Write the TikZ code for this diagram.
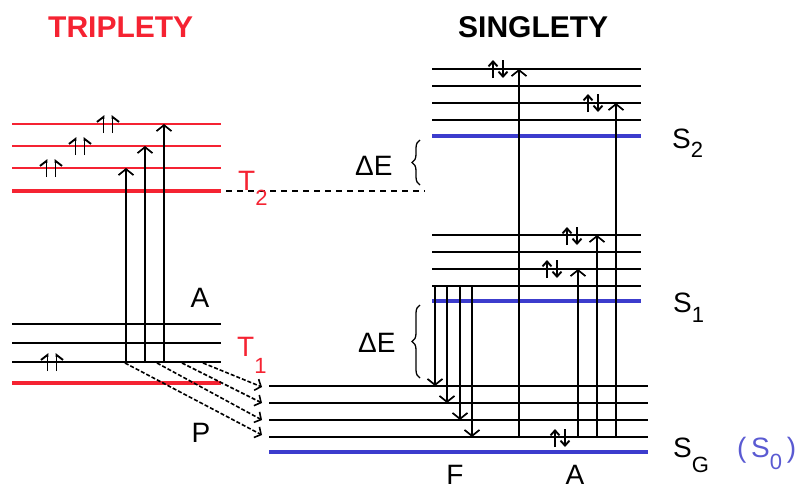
\documentclass[tikz,border=0pt]{standalone}
\usepackage{fontspec}
\setmainfont{Liberation Sans}
\usetikzlibrary{arrows.meta,decorations.pathreplacing}
\definecolor{tred}{RGB}{245,35,50}
\definecolor{sblue}{RGB}{60,60,205}
\definecolor{lblue}{RGB}{90,90,210}
\newcommand\sublab[3]{#1\raisebox{-#2pt}{\fontsize{22}{22}\selectfont #3}}
\begin{document}
\begin{tikzpicture}[x=1pt,y=-1pt,
  lvl/.style={line width=2pt},
  thick lvl/.style={line width=4pt},
  tr/.style={line width=1.7pt,-{Straight Barb[length=6pt,width=15pt]}},
  ph/.style={line width=1.6pt,dash pattern=on 4pt off 2pt,-{Straight Barb[length=5pt,width=12pt]}},
  spinline/.style={line width=1.9pt},
  lab/.style={font=\fontsize{28}{30}\selectfont,inner sep=0pt,text depth=0pt},
  ttl/.style={font=\fontsize{30}{32}\selectfont\bfseries,inner sep=0pt},
  br/.style={decorate,decoration={brace,amplitude=8pt},line width=1.3pt},
  tspin/.pic={
    \draw[spinline,-{Straight Barb[left,length=5pt,width=13pt]}] (-4.5,9) -- (-4.5,-9);
    \draw[spinline,-{Straight Barb[right,length=5pt,width=13pt]}] (4.5,9) -- (4.5,-9);},
  sspin/.pic={
    \draw[spinline,-{Straight Barb[length=5pt,width=9pt]}] (-5,9) -- (-5,-9);
    \draw[spinline,-{Straight Barb[length=5pt,width=9pt]}] (5,-9) -- (5,9);}
]
\useasboundingbox (0,0) rectangle (801,491);

% ---------- triplet levels ----------
\foreach \y in {124,146,168} \draw[lvl,tred] (12,\y) -- (221,\y);
\draw[thick lvl,tred] (12,191) -- (221,191);
\foreach \y in {324,343,362} \draw[lvl] (12,\y) -- (221,\y);
\draw[thick lvl,tred] (12,383) -- (221,383);

% ---------- singlet levels ----------
\foreach \y in {69,86,103,120} \draw[lvl] (432,\y) -- (641,\y);
\draw[thick lvl,sblue] (432,136) -- (641,136);
\foreach \y in {235,252,269,286} \draw[lvl] (432,\y) -- (641,\y);
\draw[thick lvl,sblue] (432,301) -- (641,301);
\foreach \y in {386,403,420,437} \draw[lvl] (269,\y) -- (648,\y);
\draw[thick lvl,sblue] (269,452) -- (648,452);

% ---------- coordinates ----------
\coordinate (ta1) at (126,362); \coordinate (ta1e) at (126,168);
\coordinate (ta2) at (145,362); \coordinate (ta2e) at (145,146);
\coordinate (ta3) at (164,362); \coordinate (ta3e) at (164,124);
\coordinate (p1) at (125,363); \coordinate (p1e) at (262,435);
\coordinate (p2) at (157,363); \coordinate (p2e) at (262,420);
\coordinate (p3) at (182,363); \coordinate (p3e) at (262,403);
\coordinate (p4) at (203,363); \coordinate (p4e) at (262,387);
\coordinate (sa1) at (519,437); \coordinate (sa1e) at (519,69);
\coordinate (sa2) at (578,437); \coordinate (sa2e) at (578,269);
\coordinate (sa3) at (597,437); \coordinate (sa3e) at (597,235);
\coordinate (sa4) at (616,437); \coordinate (sa4e) at (616,103);
\coordinate (f1) at (435,286); \coordinate (f1e) at (435,386);
\coordinate (f2) at (447,286); \coordinate (f2e) at (447,403);
\coordinate (f3) at (460,286); \coordinate (f3e) at (460,420);
\coordinate (f4) at (472,286); \coordinate (f4e) at (472,437);
\coordinate (dl1) at (226,191); \coordinate (dl2) at (425,191);
\coordinate (b1a) at (420,185); \coordinate (b1b) at (420,140);
\coordinate (b2a) at (420,378); \coordinate (b2b) at (420,305);

% ---------- dashed T2 line ----------
\draw[line width=1.4pt,dash pattern=on 6pt off 5pt] (dl1) -- (dl2);

% ---------- transitions ----------
\draw[tr] (ta1) -- (ta1e);
\draw[tr] (ta2) -- (ta2e);
\draw[tr] (ta3) -- (ta3e);
\draw[ph] (p1) -- (p1e);
\draw[ph] (p2) -- (p2e);
\draw[ph] (p3) -- (p3e);
\draw[ph] (p4) -- (p4e);
\draw[tr] (sa1) -- (sa1e);
\draw[tr] (sa2) -- (sa2e);
\draw[tr] (sa3) -- (sa3e);
\draw[tr] (sa4) -- (sa4e);
\draw[tr] (f1) -- (f1e);
\draw[tr] (f2) -- (f2e);
\draw[tr] (f3) -- (f3e);
\draw[tr] (f4) -- (f4e);

% ---------- spins ----------
\pic at (51,168) {tspin};
\pic at (80,146) {tspin};
\pic at (108,124) {tspin};
\pic at (52,362) {tspin};
\pic at (498,69) {sspin};
\pic at (593,103) {sspin};
\pic at (572,236) {sspin};
\pic at (552,269) {sspin};
\pic at (560,438) {sspin};

% ---------- braces ----------
\draw[br] (b1a) -- (b1b);
\draw[br] (b2a) -- (b2b);

% ---------- labels ----------
\node[ttl,text=tred,anchor=base west] (trip) at (48,37) {TRIPLETY};
\node[ttl,anchor=base west] (sing) at (458,37) {SINGLETY};
\node[lab,text=tred,anchor=base west,fill=white] (t2) at (238,190) {\sublab{T}{15}{2}};
\node[lab,text=tred,anchor=base west] (t1) at (237,356) {\sublab{T}{17}{1}};
\node[lab,anchor=base] (la) at (200,307) {A};
\node[lab,anchor=base] (lp) at (201,442) {P};
\node[lab,anchor=base] (lf) at (455,484) {F};
\node[lab,anchor=base] (la2) at (575,484) {A};
\node[lab,anchor=base west] (de1) at (355,175) {ΔE};
\node[lab,anchor=base west] (de2) at (358,352) {ΔE};
\node[lab,anchor=base west] (s2) at (672,148) {\sublab{S}{9}{2}};
\node[lab,anchor=base west] (s1) at (673,312) {\sublab{S}{10}{1}};
\node[lab,anchor=base west] (sg) at (673,457) {\sublab{S}{15}{G}};
\node[lab,text=lblue,anchor=base west] (s0) at (737,457) {(\,\sublab{S}{12}{0}\,)};
\end{tikzpicture}
\end{document}
